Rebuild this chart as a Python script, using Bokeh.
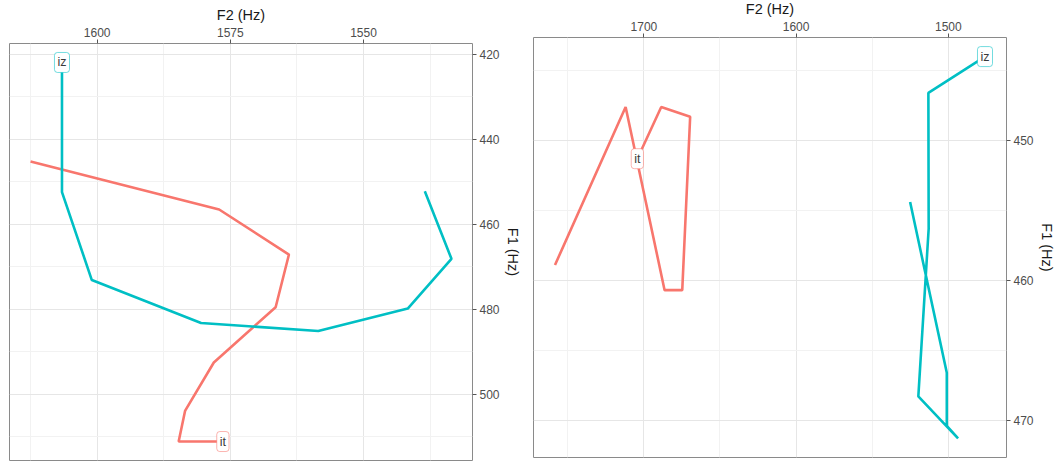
from bokeh.plotting import figure
from bokeh.layouts import row
from bokeh.models import Range1d, FixedTicker
from bokeh.core.properties import value
from bokeh.embed import file_html
from bokeh.resources import INLINE

# ---------------- data ----------------
series_names = ["it", "iz"]
series_colors = ["#F8766D", "#00BFC4"]

# Panel 1 (left)
p1_iz_f2 = [1606.6, 1606.6, 1601.0, 1580.5, 1558.5, 1541.7, 1533.5, 1538.5]
p1_iz_f1 = [421.9, 452.4, 473.1, 483.2, 485.1, 479.8, 468.1, 452.2]
p1_it_f2 = [1576.4, 1584.7, 1583.5, 1578.1, 1566.5, 1564.0, 1577.1, 1612.5]
p1_it_f1 = [511.1, 511.1, 503.9, 492.5, 479.5, 467.1, 456.5, 445.2]
p1_x_ticks = [1600, 1575, 1550]
p1_x_minor = [1612.5, 1587.5, 1562.5, 1537.5]
p1_y_ticks = [420, 440, 460, 480, 500]
p1_y_minor = [430, 450, 470, 490, 510]

# Panel 2 (right)
p2_iz_f2 = [1475.9, 1513.1, 1512.9, 1519.7, 1493.6, 1501.0, 1501.0, 1525.1]
p2_iz_f1 = [444.0, 446.6, 456.3, 468.3, 471.3, 470.4, 466.6, 454.4]
p2_it_f2 = [1704.3, 1688.6, 1669.6, 1674.8, 1686.4, 1712.0, 1758.4]
p2_it_f1 = [451.3, 447.6, 448.3, 460.7, 460.7, 447.6, 458.9]
p2_x_ticks = [1700, 1600, 1500]
p2_x_minor = [1750, 1650, 1550]
p2_y_ticks = [450, 460, 470]
p2_y_minor = [445, 455, 465]

FONT = "Liberation Sans"


def make_panel(it_x, it_y, iz_x, iz_y, xt, xm, yt, ym, width, height,
               bl, br, bt, bb):
    xs = it_x + iz_x
    ys = it_y + iz_y
    xpad = 0.05 * (max(xs) - min(xs))
    ypad = 0.05 * (max(ys) - min(ys))
    p = figure(width=width, height=height,
               x_range=Range1d(start=max(xs) + xpad, end=min(xs) - xpad),
               y_range=Range1d(start=max(ys) + ypad, end=min(ys) - ypad),
               x_axis_location="above", y_axis_location="right",
               output_backend="svg", toolbar_location=None,
               min_border_left=bl, min_border_right=br,
               min_border_top=bt, min_border_bottom=bb)
    p.background_fill_color = "white"
    p.border_fill_color = "white"
    p.outline_line_color = "#8a8a8a"
    p.outline_line_width = 1

    for ax, ticks, minor, lab in ((p.xaxis[0], xt, xm, "F2 (Hz)"),
                                  (p.yaxis[0], yt, ym, "F1 (Hz)")):
        ax.ticker = FixedTicker(ticks=ticks, minor_ticks=minor)
        ax.axis_label = lab
        ax.axis_line_color = None
        ax.major_tick_line_color = "#555555"
        ax.major_tick_out = 4
        ax.major_tick_in = 0
        ax.minor_tick_line_color = None
        ax.major_label_text_font = FONT
        ax.major_label_text_font_size = "12px"
        ax.major_label_text_color = "#4D4D4D"
        ax.major_label_standoff = 3
        ax.axis_label_text_font = FONT
        ax.axis_label_text_font_size = "14.5px"
        ax.axis_label_text_font_style = "normal"
        ax.axis_label_text_color = "#1a1a1a"
        ax.axis_label_standoff = 2

    for g in (p.xgrid[0], p.ygrid[0]):
        g.grid_line_color = "#E6E6E6"
        g.grid_line_width = 1
        g.minor_grid_line_color = "#F2F2F2"
        g.minor_grid_line_width = 1

    for (x, y), name, col in zip(((it_x, it_y), (iz_x, iz_y)),
                                 series_names, series_colors):
        p.line(x=x, y=y, line_color=col, line_width=2.6)
    for (x, y), name, col in zip(((it_x, it_y), (iz_x, iz_y)),
                                 series_names, series_colors):
        p.text(x=[x[0]], y=[y[0]], text=[name],
               text_align="center", text_baseline="middle",
               text_font=value(FONT), text_font_size="12.5px",
               text_color="#3a3a3a",
               background_fill_color="white",
               border_line_color=col, border_line_alpha=0.55,
               border_line_width=1,
               padding=3, border_radius=3)
    return p


left = make_panel(p1_it_f2, p1_it_f1, p1_iz_f2, p1_iz_f1,
                  p1_x_ticks, p1_x_minor, p1_y_ticks, p1_y_minor,
                  530, 464, 9, 58, 43, 4)
right = make_panel(p2_it_f2, p2_it_f1, p2_iz_f2, p2_iz_f1,
                   p2_x_ticks, p2_x_minor, p2_y_ticks, p2_y_minor,
                   529, 467, 3, 53, 43, 0)
right.margin = (-6, 0, 0, 0)

layout = row(left, right)
open("out.html", "w").write(file_html(layout, INLINE))
